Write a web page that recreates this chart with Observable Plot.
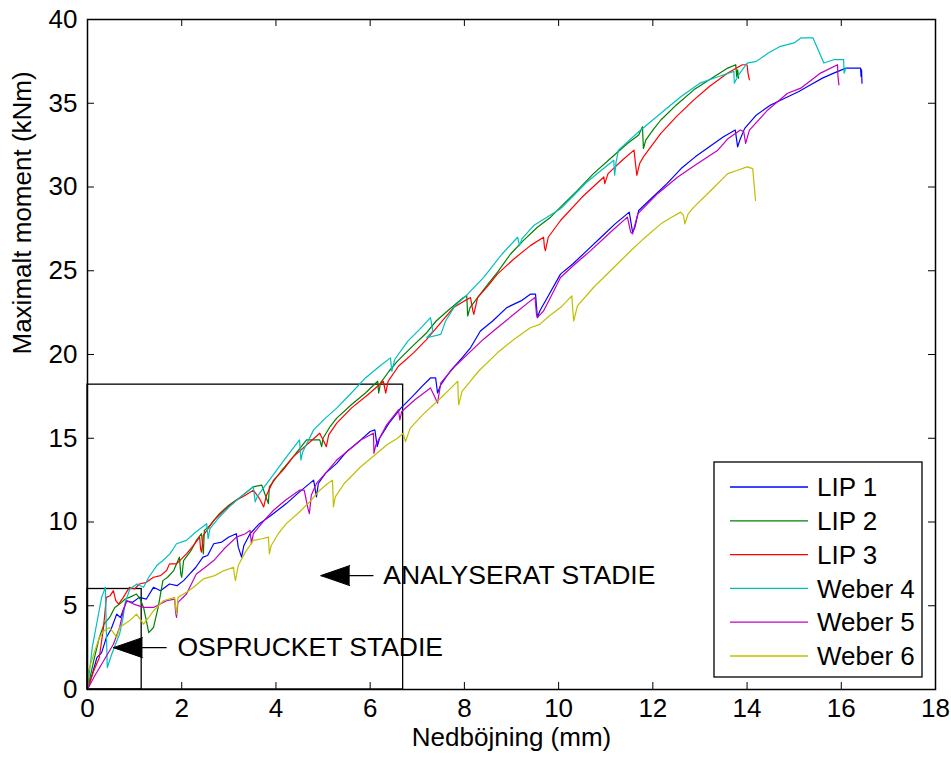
<!DOCTYPE html>
<html><head><meta charset="utf-8">
<script src="https://cdn.jsdelivr.net/npm/d3@7"></script>
<script src="https://cdn.jsdelivr.net/npm/@observablehq/plot@0.6"></script>
<style>
body{margin:0;background:#fff}
svg{font-family:"Liberation Sans",Arial,sans-serif}
</style>
</head><body><div id="chart"></div>
<script>
const seriesNames = ["LIP 1","LIP 2","LIP 3","Weber 4","Weber 5","Weber 6"];
const seriesColors = ["#0000ff","#008000","#ff0000","#00bfbf","#bf00bf","#bfbf00"];
const xTicks = [0,2,4,6,8,10,12,14,16,18];
const yTicks = [0,5,10,15,20,25,30,35,40];
const xLabel = "Nedböjning (mm)";
const yLabel = "Maximalt moment (kNm)";

const lip1 = [[0,0],[0.1,0.9],[0.2,1.9],[0.3,2.2],[0.4,3.1],[0.5,3.6],[0.62,4.5],[0.7,4.3],[0.83,5.3],[0.95,5.2],[1.1,5.5],[1.25,5.4],[1.4,6.1],[1.55,5.9],[1.74,6.3],[1.9,6.2],[2.04,6.5],[2.17,6.9],[2.3,7.3],[2.45,7.9],[2.55,8.0],[2.68,8.7],[2.85,8.8],[3.0,9.1],[3.16,9.3],[3.2,8.5],[3.27,7.9],[3.32,8.6],[3.45,9.3],[3.65,9.9],[3.9,10.4],[4.22,11.1],[4.5,11.8],[4.8,12.5],[4.86,11.5],[4.9,12.3],[5.05,12.9],[5.29,13.5],[5.5,14.2],[5.8,14.9],[6.0,15.4],[6.1,15.5],[6.15,14.5],[6.2,15.0],[6.4,15.9],[6.65,16.8],[6.9,17.5],[7.1,18.1],[7.28,18.6],[7.39,18.6],[7.43,17.7],[7.5,18.2],[7.7,19.0],[7.95,19.8],[8.13,20.4],[8.34,21.4],[8.6,22.0],[8.9,22.8],[9.2,23.2],[9.4,23.6],[9.51,23.6],[9.55,22.2],[9.6,22.6],[9.8,23.6],[10.04,24.8],[10.3,25.4],[10.6,26.2],[10.9,27.0],[11.2,27.8],[11.5,28.5],[11.57,27.3],[11.62,27.6],[11.7,28.6],[12.0,29.4],[12.3,30.2],[12.6,31.1],[12.9,31.8],[13.2,32.4],[13.5,33.0],[13.75,33.4],[13.8,32.4],[13.86,32.9],[13.95,33.5],[14.2,34.3],[14.5,34.9],[14.8,35.3],[15.1,35.7],[15.35,36.1],[15.6,36.5],[15.84,36.8],[16.1,37.1],[16.41,37.1],[16.42,36.6],[16.43,37.0],[16.44,36.2]];

const lip2 = [[0,0],[0.13,1.7],[0.25,3.1],[0.35,3.9],[0.47,4.3],[0.58,4.9],[0.68,5.1],[0.8,5.4],[0.89,5.5],[1.04,5.7],[1.12,5.4],[1.19,4.9],[1.25,4.1],[1.3,3.4],[1.4,3.7],[1.5,4.9],[1.6,6.5],[1.7,6.7],[1.83,7.1],[1.95,7.9],[1.98,6.9],[2.0,6.7],[2.04,7.7],[2.2,8.3],[2.31,8.9],[2.42,9.3],[2.46,8.1],[2.48,9.5],[2.6,9.8],[2.8,10.5],[3.0,11.0],[3.25,11.5],[3.52,12.1],[3.7,12.2],[3.8,11.4],[3.84,11.1],[3.86,12.1],[4.1,13.0],[4.37,13.9],[4.65,14.9],[4.93,14.9],[4.97,14.5],[5.0,15.0],[5.15,15.7],[5.29,16.2],[5.6,17.0],[5.9,17.7],[6.16,18.4],[6.18,17.7],[6.22,18.3],[6.4,19.0],[6.58,19.6],[6.9,20.5],[7.2,21.3],[7.4,22.0],[7.64,22.6],[7.98,23.4],[8.05,23.5],[8.07,22.3],[8.12,22.8],[8.28,23.4],[8.5,24.2],[8.7,24.9],[8.98,26.0],[9.25,26.8],[9.55,27.6],[9.83,28.2],[10.04,28.8],[10.4,29.8],[10.74,30.8],[11.1,31.7],[11.46,32.6],[11.7,33.1],[11.78,33.6],[11.8,32.3],[11.85,32.8],[12.0,33.4],[12.17,34.0],[12.5,34.9],[12.87,35.8],[13.2,36.4],[13.59,37.1],[13.76,37.3],[13.78,36.6],[13.8,37.0],[13.82,36.5]];

const lip3 = [[0,0],[0.13,1.1],[0.25,1.9],[0.34,3.7],[0.4,5.5],[0.48,5.6],[0.55,5.9],[0.6,5.3],[0.66,5.1],[0.76,5.5],[0.89,6.1],[1.0,6.0],[1.1,6.3],[1.25,6.4],[1.4,6.7],[1.55,6.8],[1.68,7.1],[1.74,7.5],[1.89,7.5],[2.1,8.1],[2.25,8.6],[2.38,9.1],[2.4,8.4],[2.42,8.2],[2.46,9.2],[2.68,10.1],[2.9,10.7],[3.16,11.3],[3.35,11.6],[3.52,11.9],[3.65,11.4],[3.74,10.9],[3.8,11.6],[3.95,12.5],[4.15,13.1],[4.37,13.9],[4.65,14.6],[4.93,15.3],[5.0,14.9],[5.07,14.5],[5.12,15.2],[5.29,15.9],[5.6,16.8],[5.95,17.6],[6.28,18.4],[6.33,17.7],[6.38,18.4],[6.6,19.3],[6.92,20.1],[7.2,20.9],[7.5,21.9],[7.77,22.8],[8.0,23.2],[8.13,23.4],[8.18,22.6],[8.2,22.4],[8.28,23.4],[8.5,24.1],[8.7,24.8],[9.05,25.7],[9.4,26.5],[9.68,27.0],[9.7,26.4],[9.72,26.2],[9.78,27.0],[10.04,28.0],[10.5,29.4],[10.96,30.6],[10.98,30.2],[11.05,30.8],[11.35,31.6],[11.6,32.2],[11.64,31.2],[11.66,30.7],[11.72,31.4],[11.8,31.8],[12.17,33.2],[12.5,34.2],[12.87,35.2],[13.2,36.0],[13.59,36.8],[13.9,37.3],[14.0,37.3],[14.02,36.8],[14.05,36.4]];

const weber4 = [[0,0],[0.1,2.5],[0.2,4.0],[0.3,5.5],[0.38,6.1],[0.4,3.5],[0.42,1.3],[0.5,2.0],[0.58,2.6],[0.68,3.3],[0.75,4.2],[0.8,5.2],[0.9,6.0],[1.05,6.3],[1.19,6.1],[1.3,6.7],[1.47,7.4],[1.6,7.7],[1.75,8.1],[1.89,8.7],[2.1,8.9],[2.3,9.4],[2.53,9.9],[2.56,9.0],[2.6,9.6],[2.8,10.3],[3.01,10.9],[3.25,11.5],[3.52,12.1],[3.56,11.2],[3.6,11.5],[3.7,11.9],[3.86,12.5],[4.2,13.8],[4.5,14.9],[4.53,13.7],[4.57,14.2],[4.8,15.5],[5.05,16.2],[5.29,16.8],[5.6,17.7],[5.9,18.6],[6.2,19.3],[6.43,19.8],[6.46,19.0],[6.52,19.7],[6.8,20.8],[7.05,21.5],[7.28,22.2],[7.33,21.4],[7.2,21.0],[7.5,21.2],[7.6,22.0],[7.8,22.9],[8.07,23.6],[8.41,24.6],[8.8,26.0],[9.13,27.0],[9.17,26.5],[9.22,26.9],[9.47,27.7],[10.04,28.7],[10.6,30.3],[11.17,31.6],[11.19,30.7],[11.22,31.5],[11.27,32.2],[11.7,33.3],[12.17,34.4],[12.6,35.4],[13.0,36.2],[13.4,36.6],[13.72,36.9],[13.73,36.2],[13.8,36.6],[14.0,37.4],[14.2,37.5],[14.45,38.0],[14.71,38.4],[15.0,38.6],[15.14,38.9],[15.4,38.9],[15.63,37.4],[15.84,37.6],[16.05,37.6],[16.06,36.8],[16.1,37.1]];

const weber5 = [[0,0],[0.13,0.7],[0.34,1.7],[0.55,2.7],[0.68,3.7],[0.76,4.7],[0.83,5.3],[0.98,5.1],[1.19,4.9],[1.4,4.9],[1.68,5.3],[1.85,5.4],[1.87,4.6],[1.89,4.3],[1.92,5.2],[2.1,5.7],[2.31,6.9],[2.5,7.3],[2.68,7.7],[2.9,8.4],[3.16,9.1],[3.35,9.3],[3.45,9.5],[3.48,8.7],[3.52,9.3],[3.75,10.1],[3.95,10.7],[4.2,11.3],[4.5,11.9],[4.6,11.9],[4.68,10.8],[4.71,10.5],[4.75,11.6],[4.86,12.3],[5.05,12.9],[5.29,13.7],[5.55,14.3],[5.8,14.9],[6.07,15.3],[6.08,14.1],[6.12,14.6],[6.35,15.8],[6.6,16.7],[6.63,16.1],[6.67,16.6],[6.95,17.3],[7.28,18.0],[7.35,17.6],[7.43,17.1],[7.5,18.3],[7.8,19.3],[8.1,20.1],[8.4,20.9],[8.7,21.6],[9.05,22.4],[9.4,23.2],[9.5,23.4],[9.53,22.4],[9.55,22.2],[9.68,22.6],[9.9,23.8],[10.04,24.6],[10.35,25.4],[10.68,26.2],[11.1,27.3],[11.46,28.2],[11.53,27.3],[11.57,27.2],[11.68,28.4],[12.1,29.6],[12.53,30.6],[12.95,31.4],[13.38,32.2],[13.6,32.9],[13.86,33.4],[13.93,33.3],[13.97,32.6],[14.05,33.4],[14.44,34.6],[14.86,35.6],[15.14,35.9],[15.56,36.8],[15.92,37.3],[15.93,36.6],[15.95,36.1]];

const weber6 = [[0,0],[0.02,1.1],[0.13,2.1],[0.25,3.1],[0.35,3.5],[0.47,3.7],[0.55,3.4],[0.62,3.1],[0.68,3.7],[0.89,4.1],[1.04,4.5],[1.19,3.9],[1.3,4.3],[1.4,4.7],[1.61,5.3],[1.85,5.5],[1.87,4.9],[1.89,4.5],[1.92,5.5],[2.1,5.8],[2.25,6.1],[2.46,6.6],[2.7,6.8],[2.9,7.1],[3.1,7.3],[3.12,6.8],[3.14,6.5],[3.2,7.4],[3.35,8.2],[3.52,8.9],[3.7,9.0],[3.84,9.1],[3.86,8.1],[3.9,8.6],[4.05,9.3],[4.22,9.9],[4.5,10.6],[4.75,11.3],[4.93,11.9],[5.1,12.3],[5.2,12.5],[5.22,10.9],[5.26,11.5],[5.45,12.3],[5.8,13.3],[6.1,14.0],[6.35,14.6],[6.58,15.0],[6.7,15.3],[6.75,14.8],[6.85,15.6],[7.15,16.5],[7.5,17.4],[7.75,18.1],[7.86,18.4],[7.87,17.4],[7.88,17.0],[7.95,17.8],[8.3,19.0],[8.7,20.1],[9.05,20.9],[9.4,21.6],[9.6,21.8],[9.8,22.3],[10.04,22.8],[10.28,23.5],[10.3,22.7],[10.32,22.0],[10.4,22.9],[10.74,24.0],[11.1,25.0],[11.46,26.0],[11.8,26.9],[12.17,27.8],[12.4,28.2],[12.59,28.5],[12.65,28.3],[12.68,27.8],[12.75,28.4],[12.87,28.8],[13.2,29.7],[13.59,30.8],[13.8,31.0],[14.0,31.2],[14.12,31.1],[14.18,29.2]];

const boxes = [
  {x1:0, x2:6.7, y1:0, y2:18.2},
  {x1:0, x2:1.15, y1:0, y2:6.0}
];
const arrows = [
  {tail:6.07, tip:4.95, y:6.8, textX:6.28, label:"ANALYSERAT STADIE"},
  {tail:1.68, tip:0.55, y:2.5, textX:1.91, label:"OSPRUCKET STADIE"}
];

const seriesData = [lip1, lip2, lip3, weber4, weber5, weber6];
const rows = [];
seriesData.forEach((pts, i) => pts.forEach(([x, y]) => rows.push({series: seriesNames[i], x, y})));

const W = 951, H = 758, mL = 87, mR = 16, mT = 19, mB = 69;
const innerW = W - mL - mR, innerH = H - mT - mB;
const font = '"Liberation Sans",Arial,sans-serif';
const tick = 7;
const fs = 26;

const chart = Plot.plot({
  width: W, height: H,
  marginLeft: mL, marginRight: mR, marginTop: mT, marginBottom: mB,
  style: {fontFamily: font, color: "black", background: "white", overflow: "visible"},
  x: {domain: [0, 18]},
  y: {domain: [0, 40]},
  color: {domain: seriesNames, range: seriesColors},
  marks: [
    Plot.rect(boxes, {x1: "x1", x2: "x2", y1: "y1", y2: "y2", fill: "none", stroke: "black", strokeWidth: 1.3}),
    Plot.line(rows, {x: "x", y: "y", z: "series", stroke: "series", strokeWidth: 1.2}),
    Plot.link(arrows, {x1: "tail", x2: "tip", y1: "y", y2: "y", stroke: "black", strokeWidth: 1.3}),
    Plot.vector(arrows, {x: "tip", y: "y", rotate: -90, length: 29, shape: "spike", r: 10, anchor: "end", fill: "black", stroke: "black", strokeWidth: 1}),
    Plot.text(arrows, {x: "textX", y: "y", text: "label", textAnchor: "start", fontSize: 26.5, fill: "black"}),
    Plot.ruleX(xTicks, {x: d => d, insetTop: innerH - tick, stroke: "black"}),
    Plot.ruleX(xTicks, {x: d => d, insetBottom: innerH - tick, stroke: "black"}),
    Plot.ruleY(yTicks, {y: d => d, insetRight: innerW - tick, stroke: "black"}),
    Plot.ruleY(yTicks, {y: d => d, insetLeft: innerW - tick, stroke: "black"}),
    Plot.axisX(xTicks, {tickSize: 0, tickPadding: 9, fontSize: fs, label: null}),
    Plot.axisY(yTicks, {tickSize: 0, tickPadding: 10, fontSize: fs, label: null}),
    Plot.text([xLabel], {frameAnchor: "bottom", dy: 56, fontSize: fs, text: d => d, fill: "black"}),
    Plot.text([yLabel], {frameAnchor: "left", dx: -65, rotate: -90, fontSize: fs, text: d => d, fill: "black"}),
    Plot.frame({stroke: "black", strokeWidth: 1.5})
  ]
});
document.getElementById("chart").appendChild(chart);

// legend
const svg = d3.select(chart);
const lg = svg.append("g").attr("font-family", font).attr("font-size", fs).attr("text-anchor", "start");
const lx = 714, ly = 462, lw = 208, lh = 215, step = 33.8, y0 = 487;
lg.append("rect").attr("x", lx).attr("y", ly).attr("width", lw).attr("height", lh)
  .attr("fill", "white").attr("stroke", "black").attr("stroke-width", 1.3);
seriesNames.forEach((name, i) => {
  const yy = y0 + i * step;
  lg.append("line").attr("x1", 730).attr("x2", 808).attr("y1", yy).attr("y2", yy)
    .attr("stroke", seriesColors[i]).attr("stroke-width", 1.3);
  lg.append("text").attr("x", 817).attr("y", yy).attr("dy", "0.35em")
    .attr("text-anchor", "start").attr("fill", "black").text(name);
});
</script></body></html>
